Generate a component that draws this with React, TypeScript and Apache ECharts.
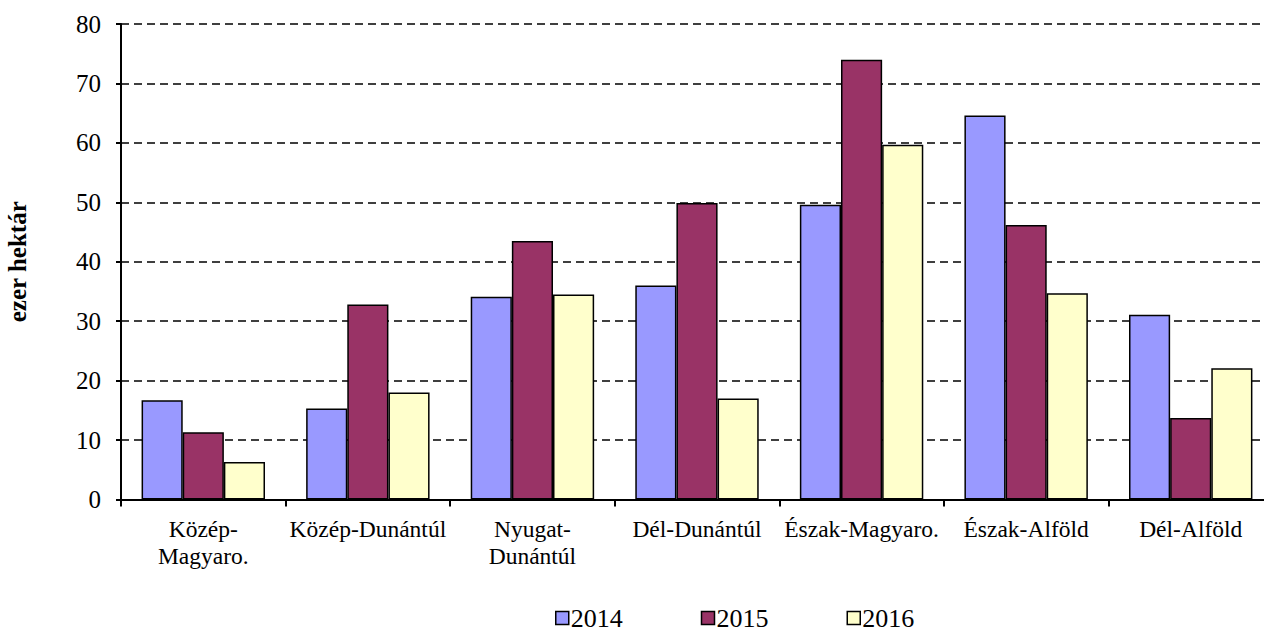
import React, { useEffect, useRef } from "react";
import * as echarts from "echarts";

const categories = [
  "Közép-\nMagyaro.",
  "Közép-Dunántúl",
  "Nyugat-\nDunántúl",
  "Dél-Dunántúl",
  "Észak-Magyaro.",
  "Észak-Alföld",
  "Dél-Alföld",
];
const years = ["2014", "2015", "2016"];
const values2014 = [16.7, 15.3, 34.1, 36.0, 49.6, 64.6, 31.1];
const values2015 = [11.3, 32.8, 43.5, 49.9, 74.0, 46.2, 13.7];
const values2016 = [6.3, 18.0, 34.5, 17.0, 59.7, 34.7, 22.1];
const colors = ["#9999FF", "#993366", "#FFFFCC"];
const yTicks = { min: 0, max: 80, interval: 10 };

const FONT = "Liberation Serif";

export default function App() {
  const ref = useRef<HTMLDivElement>(null);
  useEffect(() => {
    if (!ref.current) return;
    const chart = echarts.init(ref.current, undefined, { renderer: "svg" });
    const seriesData = [values2014, values2015, values2016];
    chart.setOption({
      animation: false,
      textStyle: { fontFamily: FONT, color: "#000" },
      grid: {
        left: 121,
        top: 24,
        right: -9,
        bottom: 134.5,
        containLabel: false,
        outerBoundsMode: "none",
      },
      legend: {
        bottom: -2,
        left: 550,
        itemWidth: 13,
        itemHeight: 13,
        itemGap: 78,
        icon: "rect",
        itemStyle: { borderColor: "#000", borderWidth: 1.5 },
        textStyle: { fontFamily: FONT, fontSize: 26, lineHeight: 24, color: "#000", padding: [0, 0, 0, -3] },
        data: years,
      },
      xAxis: {
        type: "category",
        data: categories,
        axisLine: { lineStyle: { color: "#000", width: 2 } },
        axisTick: { show: true, length: 7, lineStyle: { color: "#000", width: 2 } },
        axisLabel: {
          interval: 0,
          color: "#000",
          fontFamily: FONT,
          fontSize: 23.5,
          lineHeight: 27,
          margin: 16,
        },
      },
      yAxis: {
        type: "value",
        min: yTicks.min,
        max: yTicks.max,
        interval: yTicks.interval,
        name: "ezer hektár",
        nameLocation: "middle",
        nameRotate: 90,
        nameGap: 91,
        nameTextStyle: { fontFamily: FONT, fontSize: 25, fontWeight: "bold", color: "#000" },
        axisLine: { show: true, lineStyle: { color: "#000", width: 2 } },
        axisTick: { show: true, length: 5, lineStyle: { color: "#000", width: 2 } },
        axisLabel: { color: "#000", fontFamily: FONT, fontSize: 25, margin: 20 },
        splitLine: { show: true, lineStyle: { color: "#000", width: 1.5, type: [8, 5] } },
      },
      series: years.map((y, i) => ({
        name: y,
        type: "bar",
        data: seriesData[i],
        barGap: "0%",
        barCategoryGap: "25%",
        itemStyle: { color: colors[i], borderColor: "#000", borderWidth: 1.5 },
      })),
    });
    return () => chart.dispose();
  }, []);
  return (
    <div
      ref={ref}
      style={{ width: 1264, height: 634, position: "fixed", left: 0, top: 0, background: "#fff" }}
    />
  );
}
